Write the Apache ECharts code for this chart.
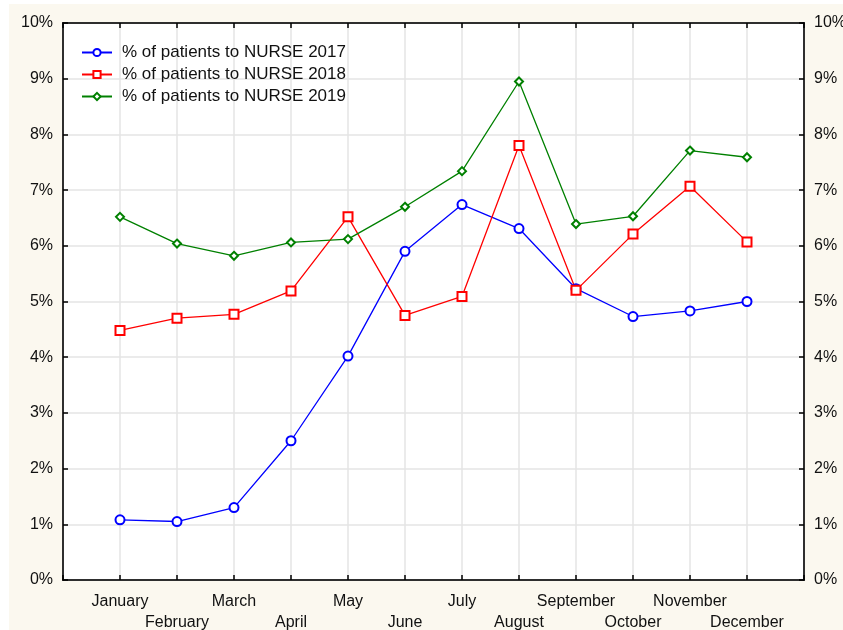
<!DOCTYPE html>
<html>
<head>
<meta charset="utf-8">
<script src="https://cdn.jsdelivr.net/npm/echarts@6/dist/echarts.min.js"></script>
<style>
  html, body { margin: 0; padding: 0; background: #fff; width: 100%; height: 100%; overflow: hidden; }
  #main { position: absolute; left: 9px; top: 4px; width: 834px; height: 626px; }
</style>
</head>
<body>
<div id="main"></div>
<script>
  const months = ["January", "February", "March", "April", "May", "June",
    "July", "August", "September", "October", "November", "December"];
  const nurse2017 = [1.08, 1.05, 1.30, 2.50, 4.02, 5.90, 6.74, 6.31, 5.23, 4.73, 4.83, 5.00];
  const nurse2018 = [4.48, 4.70, 4.77, 5.19, 6.52, 4.75, 5.09, 7.80, 5.20, 6.21, 7.07, 6.07];
  const nurse2019 = [6.52, 6.04, 5.82, 6.06, 6.12, 6.70, 7.34, 8.95, 6.39, 6.53, 7.71, 7.59];

  const font = "'Liberation Sans', Arial, sans-serif";
  const chart = echarts.init(document.getElementById("main"));

  // months sit on x = 1..12, axis runs 0..13
  const pts = arr => arr.map((v, i) => [i + 1, v]);

  const axisLine = { show: true, onZero: false, lineStyle: { color: "#000", width: 1.5 } };
  const axisTick = { show: true, inside: true, length: 5, lineStyle: { color: "#000", width: 1.5 } };
  const gridLine = { show: true, lineStyle: { color: "#e4e4e4", width: 1.5 } };

  const yAxisBase = {
    type: "value",
    min: 0,
    max: 10,
    interval: 1,
    axisLine: axisLine,
    axisTick: axisTick,
    axisLabel: { formatter: "{value}%", color: "#111", fontFamily: font, fontSize: 16, margin: 10 }
  };

  const option = {
    backgroundColor: "#fbf8ef",
    animation: false,
    grid: {
      left: 54, right: 39, top: 19, bottom: 50,
      outerBoundsMode: "none",
      containLabel: false,
      show: true, backgroundColor: "#fff", borderColor: "#000", borderWidth: 1.5
    },
    legend: {
      orient: "vertical",
      left: 72,
      top: 40,
      padding: 0,
      itemWidth: 30,
      itemHeight: 9,
      itemGap: 5,
      textStyle: { fontFamily: font, fontSize: 17, color: "#111", lineHeight: 17, padding: [0, 0, 0, 5] }
    },
    xAxis: [
      {
        type: "value",
        min: 0,
        max: 13,
        interval: 1,
        z: 1,
        axisLine: axisLine,
        axisTick: axisTick,
        splitLine: gridLine,
        axisLabel: {
          color: "#111", fontFamily: font, fontSize: 16, lineHeight: 21, margin: 11,
          showMinLabel: true, showMaxLabel: true,
          formatter: function (v) {
            if (v < 1 || v > 12) return "";
            const name = months[v - 1];
            return v % 2 === 1 ? name : "\n" + name;
          }
        }
      },
      {
        type: "value",
        position: "top",
        min: 0,
        max: 13,
        interval: 1,
        z: 3,
        axisLine: axisLine,
        axisTick: axisTick,
        axisLabel: { show: false },
        splitLine: { show: false }
      }
    ],
    yAxis: [
      Object.assign({}, yAxisBase, { position: "left", z: 1, splitLine: gridLine }),
      Object.assign({}, yAxisBase, { position: "right", z: 3, splitLine: { show: false } })
    ],
    series: [
      {
        name: "% of patients to NURSE 2017",
        type: "line",
        data: pts(nurse2017),
        symbol: "emptyCircle",
        symbolSize: 9,
        color: "#0000ff",
        z: 4,
        lineStyle: { width: 1.3 },
        itemStyle: { borderWidth: 1.3 }
      },
      {
        name: "% of patients to NURSE 2018",
        type: "line",
        data: pts(nurse2018),
        symbol: "emptyRect",
        symbolSize: 9,
        color: "#ff0000",
        z: 4,
        lineStyle: { width: 1.3 },
        itemStyle: { borderWidth: 1.3 }
      },
      {
        name: "% of patients to NURSE 2019",
        type: "line",
        data: pts(nurse2019),
        symbol: "emptyDiamond",
        symbolSize: 8,
        color: "#008000",
        z: 4,
        lineStyle: { width: 1.3 },
        itemStyle: { borderWidth: 1.3 }
      }
    ]
  };

  chart.setOption(option);
</script>
</body>
</html>
